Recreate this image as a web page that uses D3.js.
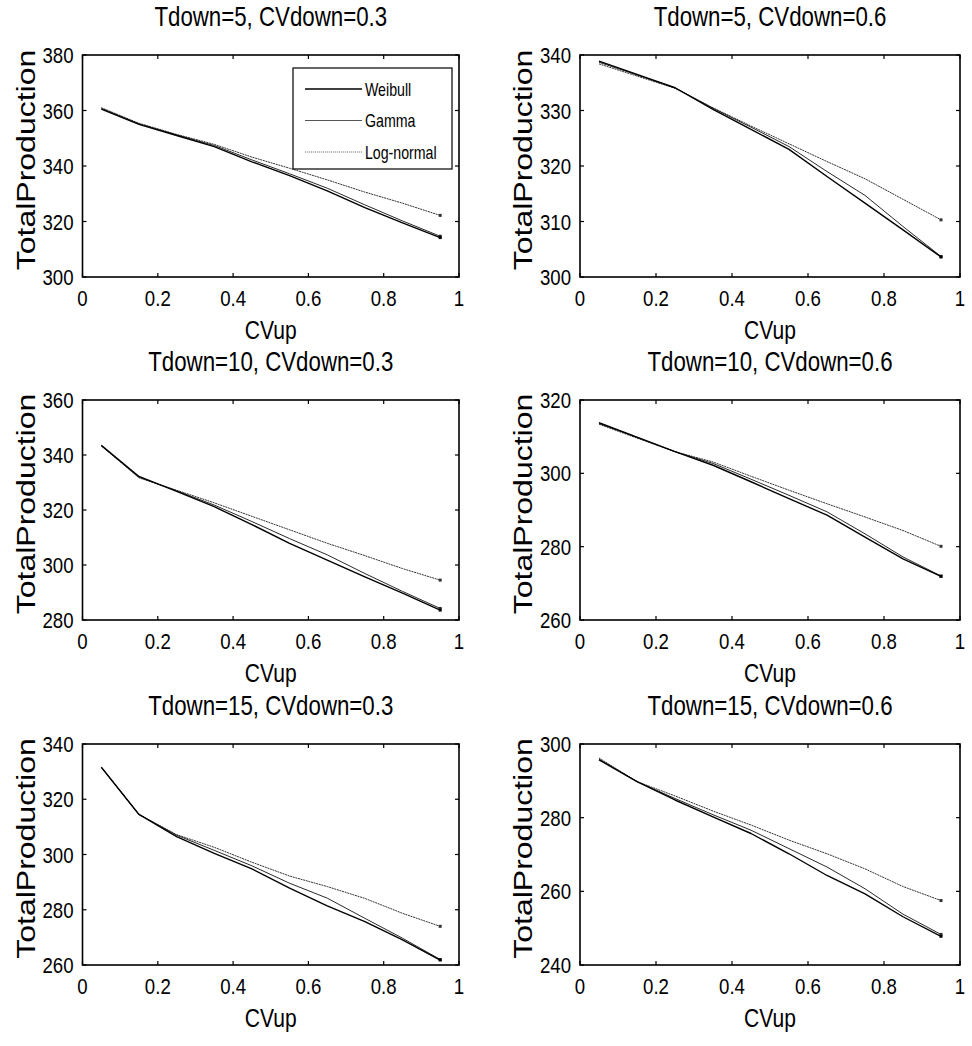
<!DOCTYPE html>
<html>
<head>
<meta charset="utf-8">
<script src="https://cdn.jsdelivr.net/npm/d3@7"></script>
<style>
  html, body { margin: 0; padding: 0; background: #fff; }
  svg { display: block; font-family: "Liberation Sans", Arial, Helvetica, sans-serif; }
</style>
</head>
<body>
<svg id="chart" width="972" height="1046"></svg>
<script>
// ---------------- data ----------------
const cvUp = [0.05, 0.15, 0.25, 0.35, 0.45, 0.55, 0.65, 0.75, 0.85, 0.95];
const seriesNames = ["Weibull", "Gamma", "Log-normal"];
const panelTitles = [
  "Tdown=5, CVdown=0.3", "Tdown=5, CVdown=0.6",
  "Tdown=10, CVdown=0.3", "Tdown=10, CVdown=0.6",
  "Tdown=15, CVdown=0.3", "Tdown=15, CVdown=0.6"
];
const xTicks = [0, 0.2, 0.4, 0.6, 0.8, 1];
const xTickLabels = ["0", "0.2", "0.4", "0.6", "0.8", "1"];
const yTicks1 = [300, 320, 340, 360, 380];
const yTicks2 = [300, 310, 320, 330, 340];
const yTicks3 = [280, 300, 320, 340, 360];
const yTicks4 = [260, 280, 300, 320];
const yTicks5 = [260, 280, 300, 320, 340];
const yTicks6 = [240, 260, 280, 300];
const xLabel = "CVup";
const yLabel = "TotalProduction";

// Tdown=5, CVdown=0.3
const weibull1   = [360.5, 355.0, 351.0, 347.0, 341.5, 336.5, 331.0, 325.0, 319.5, 314.2];
const gamma1     = [360.8, 355.2, 351.2, 347.4, 342.2, 337.2, 332.0, 326.0, 320.2, 314.7];
const lognormal1 = [361.0, 355.4, 351.4, 347.8, 343.2, 339.2, 335.0, 330.6, 326.6, 322.2];
// Tdown=5, CVdown=0.6
const weibull2   = [338.9, 336.5, 334.1, 330.2, 326.6, 323.0, 318.1, 313.3, 308.5, 303.6];
const gamma2     = [338.7, 336.4, 334.1, 330.4, 327.0, 323.5, 319.0, 314.7, 309.1, 303.7];
const lognormal2 = [338.4, 336.2, 334.0, 330.5, 327.2, 324.0, 320.8, 317.7, 314.0, 310.3];
// Tdown=10, CVdown=0.3
const weibull3   = [343.5, 332.2, 326.8, 321.2, 314.7, 307.9, 301.8, 295.7, 289.8, 283.6];
const gamma3     = [343.4, 331.9, 327.0, 321.8, 315.8, 309.6, 303.7, 296.9, 290.4, 284.2];
const lognormal3 = [343.3, 331.7, 327.2, 322.6, 317.7, 312.8, 307.9, 303.4, 298.7, 294.5];
// Tdown=10, CVdown=0.6
const weibull4   = [313.8, 309.9, 305.9, 302.2, 297.7, 293.1, 288.6, 282.6, 276.7, 271.9];
const gamma4     = [313.6, 309.8, 305.9, 302.7, 298.4, 294.0, 289.5, 283.5, 277.2, 272.0];
const lognormal4 = [313.4, 309.6, 305.9, 303.1, 299.2, 295.4, 291.7, 288.1, 284.4, 280.1];
// Tdown=15, CVdown=0.3
const weibull5   = [331.6, 314.5, 306.5, 300.4, 294.8, 287.8, 281.4, 275.7, 269.1, 261.8];
const gamma5     = [331.6, 314.5, 307.0, 301.5, 295.9, 289.6, 284.2, 276.9, 269.7, 262.0];
const lognormal5 = [331.6, 314.5, 307.2, 302.6, 297.2, 292.2, 288.4, 284.1, 278.7, 274.0];
// Tdown=15, CVdown=0.6
const weibull6   = [295.7, 289.8, 284.8, 280.2, 275.7, 270.2, 264.3, 259.3, 253.1, 247.8];
const gamma6     = [295.9, 289.8, 285.2, 280.8, 276.6, 271.6, 266.6, 260.7, 253.8, 248.3];
const lognormal6 = [296.2, 289.8, 285.9, 281.8, 278.0, 273.9, 270.2, 266.1, 261.3, 257.5];

const panels = [
  { title: panelTitles[0], yDomain: [300, 380], yTicks: yTicks1, series: [weibull1, gamma1, lognormal1], legend: true },
  { title: panelTitles[1], yDomain: [300, 340], yTicks: yTicks2, series: [weibull2, gamma2, lognormal2] },
  { title: panelTitles[2], yDomain: [280, 360], yTicks: yTicks3, series: [weibull3, gamma3, lognormal3] },
  { title: panelTitles[3], yDomain: [260, 320], yTicks: yTicks4, series: [weibull4, gamma4, lognormal4] },
  { title: panelTitles[4], yDomain: [260, 340], yTicks: yTicks5, series: [weibull5, gamma5, lognormal5] },
  { title: panelTitles[5], yDomain: [240, 300], yTicks: yTicks6, series: [weibull6, gamma6, lognormal6] }
];

// ---------------- layout & style ----------------
const colX = [[82.5, 459], [580, 960]];
const rowY = [[55, 277], [400, 620], [744, 965]];
const SX = 0.81;               // horizontal compression of glyphs
const styles = [
  { stroke: "#000", width: 1.4, dash: null },
  { stroke: "#2a2a2a", width: 1.0, dash: null },
  { stroke: "#333", width: 1.0, dash: "2,0.7" }
];
const legendStyles = [
  { stroke: "#000", width: 1.3, dash: null },
  { stroke: "#555", width: 1.0, dash: null },
  { stroke: "#777", width: 1.0, dash: "1.2,0.8" }
];

const svg = d3.select("#chart");

function txt(parent, x, y, s, size, anchor, rotated) {
  const g = parent.append("g").attr("transform", rotated
    ? `translate(${x},${y}) rotate(-90) scale(1,${SX})`
    : `translate(${x},${y}) scale(${SX},1)`);
  g.append("text").attr("text-anchor", anchor).attr("font-size", size).attr("fill", "#000").text(s);
  return g;
}

panels.forEach((p, i) => {
  const [x0, x1] = colX[i % 2];
  const [y0, y1] = rowY[Math.floor(i / 2)];
  const x = d3.scaleLinear().domain([0, 1]).range([x0, x1]);
  const y = d3.scaleLinear().domain(p.yDomain).range([y1, y0]);
  const g = svg.append("g");

  // series lines
  const line = d3.line().x((d, k) => x(cvUp[k])).y(d => y(d));
  [2, 1, 0].forEach(s => {
    const st = styles[s];
    g.append("path").datum(p.series[s]).attr("d", line)
      .attr("fill", "none").attr("stroke", st.stroke).attr("stroke-width", st.width)
      .attr("stroke-dasharray", st.dash).attr("stroke-linejoin", "round");
    const last = p.series[s][p.series[s].length - 1];
    g.append("rect").attr("x", x(cvUp[cvUp.length - 1]) - 1.5).attr("y", y(last) - 1.5)
      .attr("width", 3).attr("height", 3).attr("fill", st.stroke);
  });

  // box
  g.append("rect").attr("x", x0).attr("y", y0).attr("width", x1 - x0).attr("height", y1 - y0)
    .attr("fill", "none").attr("stroke", "#000").attr("stroke-width", 1.6);

  // ticks (inward, all four sides)
  const tl = 4;
  xTicks.forEach((t, k) => {
    const xx = x(t);
    g.append("line").attr("x1", xx).attr("x2", xx).attr("y1", y1).attr("y2", y1 - tl).attr("stroke", "#000").attr("stroke-width", 1.2);
    g.append("line").attr("x1", xx).attr("x2", xx).attr("y1", y0).attr("y2", y0 + tl).attr("stroke", "#000").attr("stroke-width", 1.2);
    txt(g, xx, y1 + 29, xTickLabels[k], 23, "middle");
  });
  p.yTicks.forEach(t => {
    const yy = y(t);
    g.append("line").attr("x1", x0).attr("x2", x0 + tl).attr("y1", yy).attr("y2", yy).attr("stroke", "#000").attr("stroke-width", 1.2);
    g.append("line").attr("x1", x1).attr("x2", x1 - tl).attr("y1", yy).attr("y2", yy).attr("stroke", "#000").attr("stroke-width", 1.2);
    txt(g, x0 - 9, yy + 8, String(t), 23, "end");
  });

  // title and labels
  txt(g, (x0 + x1) / 2, y0 - 29, p.title, 27.5, "middle");
  txt(g, (x0 + x1) / 2, y1 + 62, xLabel, 26, "middle");
  txt(g, x0 - 48, (y0 + y1) / 2 - 6, yLabel, 32, "middle", true);

  // legend
  if (p.legend) {
    const lx = x0 + 210.5, ly = y0 + 13, lw = 159, lh = 101;
    const lg = g.append("g");
    lg.append("rect").attr("x", lx).attr("y", ly).attr("width", lw).attr("height", lh)
      .attr("fill", "#fff").attr("stroke", "#000").attr("stroke-width", 1.2);
    seriesNames.forEach((name, k) => {
      const yy = ly + 21 + k * 31.5;
      const st = legendStyles[k];
      lg.append("line").attr("x1", lx + 12).attr("x2", lx + 69).attr("y1", yy).attr("y2", yy)
        .attr("stroke", st.stroke).attr("stroke-width", st.width).attr("stroke-dasharray", st.dash);
      txt(lg, lx + 72, yy + 6.5, name, 17.5, "start");
    });
  }
});
</script>
</body>
</html>
